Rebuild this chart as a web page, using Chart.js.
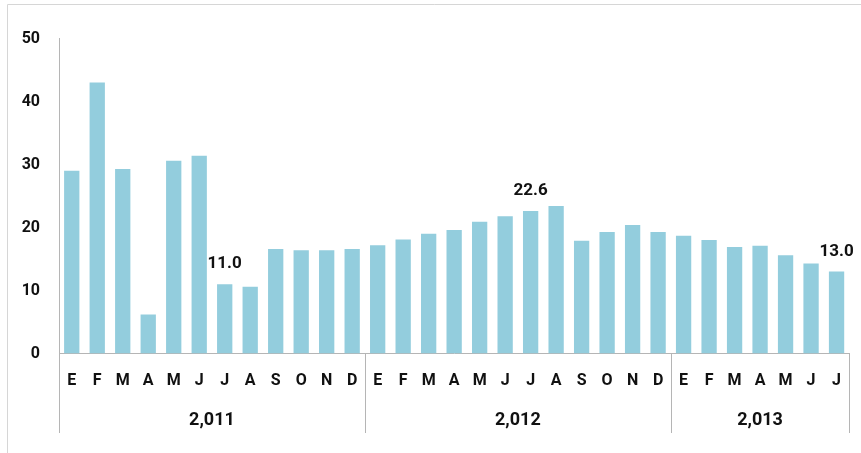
<!DOCTYPE html>
<html>
<head>
<meta charset="utf-8">
<script src="https://cdn.jsdelivr.net/npm/chart.js@4.4.1/dist/chart.umd.min.js"></script>
<style>
  html, body { margin: 0; padding: 0; background: #fff; }
  #wrap { width: 861px; height: 453px; }
</style>
</head>
<body>
<div id="wrap"><canvas id="chart" width="861" height="453"></canvas></div>
<script>
// month letters (Spanish), Jan 2011 - Jul 2013
const months = ['E','F','M','A','M','J','J','A','S','O','N','D',
                'E','F','M','A','M','J','J','A','S','O','N','D',
                'E','F','M','A','M','J','J'];
const values = [29.0, 43.0, 29.3, 6.2, 30.6, 31.4, 11.0, 10.6, 16.6, 16.4, 16.4, 16.6,
                17.2, 18.1, 19.0, 19.6, 20.9, 21.8, 22.6, 23.4, 17.9, 19.3, 20.4, 19.3,
                18.7, 18.0, 16.9, 17.1, 15.6, 14.3, 13.0];
const years = ['2,011', '2,012', '2,013'];
const yearSpans = [12, 12, 7];
const labeledIdx = [6, 18, 30];
const yTicks = [0, 10, 20, 30, 40, 50];

const FONT = 'Roboto, "Liberation Sans", sans-serif';
const TEXT = '#111';
const LINE = '#b5b5b5';

// frame, group separators, year labels and value labels
const extras = {
    id: 'extras',
    beforeDraw(chart) {
        const c = chart.ctx;
        c.save();
        c.strokeStyle = '#d6d6d6';
        c.lineWidth = 1;
        c.beginPath();
        c.moveTo(7.5, 453);
        c.lineTo(7.5, 4.5);
        c.lineTo(861, 4.5);
        c.stroke();
        c.restore();
    },
    afterDraw(chart) {
        const c = chart.ctx;
        const x = chart.scales.x;
        const area = chart.chartArea;
        const bottom = area.bottom + 79.5;

        // boundaries between year groups
        const bounds = [area.left];
        let idx = 0;
        yearSpans.forEach(n => {
            idx += n;
            if (idx >= months.length) bounds.push(area.right);
            else bounds.push((x.getPixelForValue(idx - 1) + x.getPixelForValue(idx)) / 2);
        });

        c.save();
        c.strokeStyle = LINE;
        c.lineWidth = 1;
        bounds.forEach(b => {
            const px = Math.round(b) + 0.5;
            c.beginPath();
            c.moveTo(px, area.bottom);
            c.lineTo(px, bottom);
            c.stroke();
        });

        c.fillStyle = TEXT;
        c.font = 'bold 18px ' + FONT;
        c.textAlign = 'center';
        c.textBaseline = 'middle';
        years.forEach((y, i) => {
            c.fillText(y, (bounds[i] + bounds[i + 1]) / 2, area.bottom + 67);
        });

        // value labels above selected bars
        const meta = chart.getDatasetMeta(0);
        c.font = 'bold 17px ' + FONT;
        labeledIdx.forEach(i => {
            const bar = meta.data[i];
            c.fillText(values[i].toFixed(1), bar.x, bar.y - 20);
        });
        c.restore();
    }
};

new Chart(document.getElementById('chart'), {
    type: 'bar',
    data: {
        labels: months,
        datasets: [{
            data: values,
            backgroundColor: '#93cddd',
            categoryPercentage: 1.0,
            barPercentage: 0.6
        }]
    },
    options: {
        responsive: false,
        animation: false,
        layout: { padding: { left: 0, top: 38.5, right: 11.7, bottom: 0 } },
        plugins: {
            legend: { display: false },
            tooltip: { enabled: false }
        },
        scales: {
            x: {
                grid: { display: false, drawTicks: false },
                border: { display: true, color: LINE, width: 1 },
                ticks: {
                    color: TEXT,
                    font: { family: FONT, size: 16, weight: 'bold' },
                    padding: 18,
                    maxRotation: 0,
                    autoSkip: false
                },
                afterFit(s) { s.height = 99.5; }
            },
            y: {
                min: 0,
                max: 50,
                grid: { display: false, drawTicks: false },
                border: { display: true, color: LINE, width: 1 },
                afterBuildTicks(s) { s.ticks = yTicks.map(v => ({ value: v })); },
                ticks: {
                    color: TEXT,
                    font: { family: FONT, size: 16, weight: 'bold' },
                    padding: 19
                },
                afterFit(s) { s.width = 59; }
            }
        }
    },
    plugins: [extras]
});
</script>
</body>
</html>
